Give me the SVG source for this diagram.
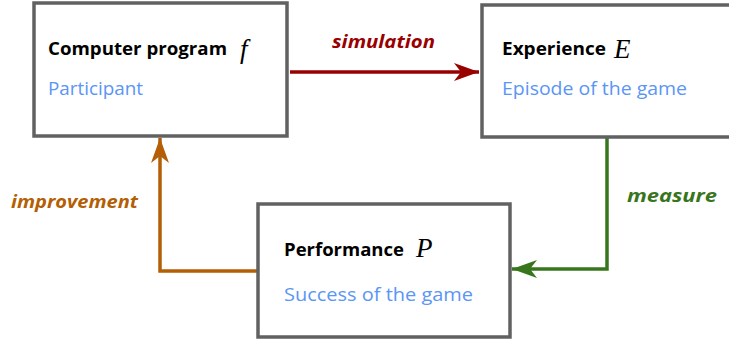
<svg xmlns="http://www.w3.org/2000/svg" width="729" height="343" viewBox="0 0 729 343">
<style>
.box{fill:#fff;stroke:#616161;stroke-width:3.5}
.title{font-family:"Open Sans",Lato,sans-serif;font-weight:700;font-size:17px;fill:#000}
.sub{font-family:"Open Sans",Lato,sans-serif;font-weight:400;font-size:18px;fill:#5b95f5}
.math{font-family:"Liberation Serif","DejaVu Serif",serif;font-style:italic;font-size:27px;fill:#000}
.lbl{font-family:"Open Sans",Lato,sans-serif;font-weight:700;font-style:italic;font-size:18px}
.conn{fill:none;stroke-width:3.5}
</style>
<defs>
<marker id="mRed" markerUnits="userSpaceOnUse" markerWidth="28" markerHeight="20" refX="25" refY="9" orient="auto" viewBox="0 0 28 20"><path d="M0,0 L25,9 L0,18 L7,9 Z" fill="#990000"/></marker>
<marker id="mGreen" markerUnits="userSpaceOnUse" markerWidth="28" markerHeight="20" refX="25" refY="9" orient="auto" viewBox="0 0 28 20"><path d="M0,0 L25,9 L0,18 L7,9 Z" fill="#38761d"/></marker>
<marker id="mOrange" markerUnits="userSpaceOnUse" markerWidth="28" markerHeight="20" refX="25" refY="9" orient="auto" viewBox="0 0 28 20"><path d="M0,0 L25,9 L0,18 L7,9 Z" fill="#b45f06"/></marker>
</defs>
<g id="connectors">
<path class="conn" stroke="#990000" d="M290,72 L479,72" marker-end="url(#mRed)"/>
<path class="conn" stroke="#38761d" d="M607,138 L607,269 L512,269" marker-end="url(#mGreen)"/>
<path class="conn" stroke="#b45f06" d="M257,271 L160,271 L160,138" marker-end="url(#mOrange)"/>
<text class="lbl" fill="#990000" x="332" y="48" textLength="103" lengthAdjust="spacingAndGlyphs">simulation</text>
<text class="lbl" fill="#38761d" x="627" y="202" textLength="90" lengthAdjust="spacingAndGlyphs">measure</text>
<text class="lbl" fill="#b45f06" x="11" y="208" textLength="127" lengthAdjust="spacingAndGlyphs">improvement</text>
</g>
<g id="node-program">
<rect class="box" x="34" y="3" width="253" height="133"/>
<text class="title" x="48" y="55" textLength="179" lengthAdjust="spacingAndGlyphs">Computer program</text>
<text class="math" x="240" y="58">f</text>
<text class="sub" x="48" y="95" textLength="95" lengthAdjust="spacingAndGlyphs">Participant</text>
</g>
<g id="node-experience">
<rect class="box" x="482" y="5" width="260" height="132"/>
<text class="title" x="502" y="55" textLength="104" lengthAdjust="spacingAndGlyphs">Experience</text>
<text class="math" x="614" y="58">E</text>
<text class="sub" x="502" y="95" textLength="185" lengthAdjust="spacingAndGlyphs">Episode of the game</text>
</g>
<g id="node-performance">
<rect class="box" x="258" y="204" width="252" height="133"/>
<text class="title" x="284" y="256" textLength="120" lengthAdjust="spacingAndGlyphs">Performance</text>
<text class="math" x="416" y="257">P</text>
<text class="sub" x="284" y="301" textLength="189" lengthAdjust="spacingAndGlyphs">Success of the game</text>
</g>
</svg>
